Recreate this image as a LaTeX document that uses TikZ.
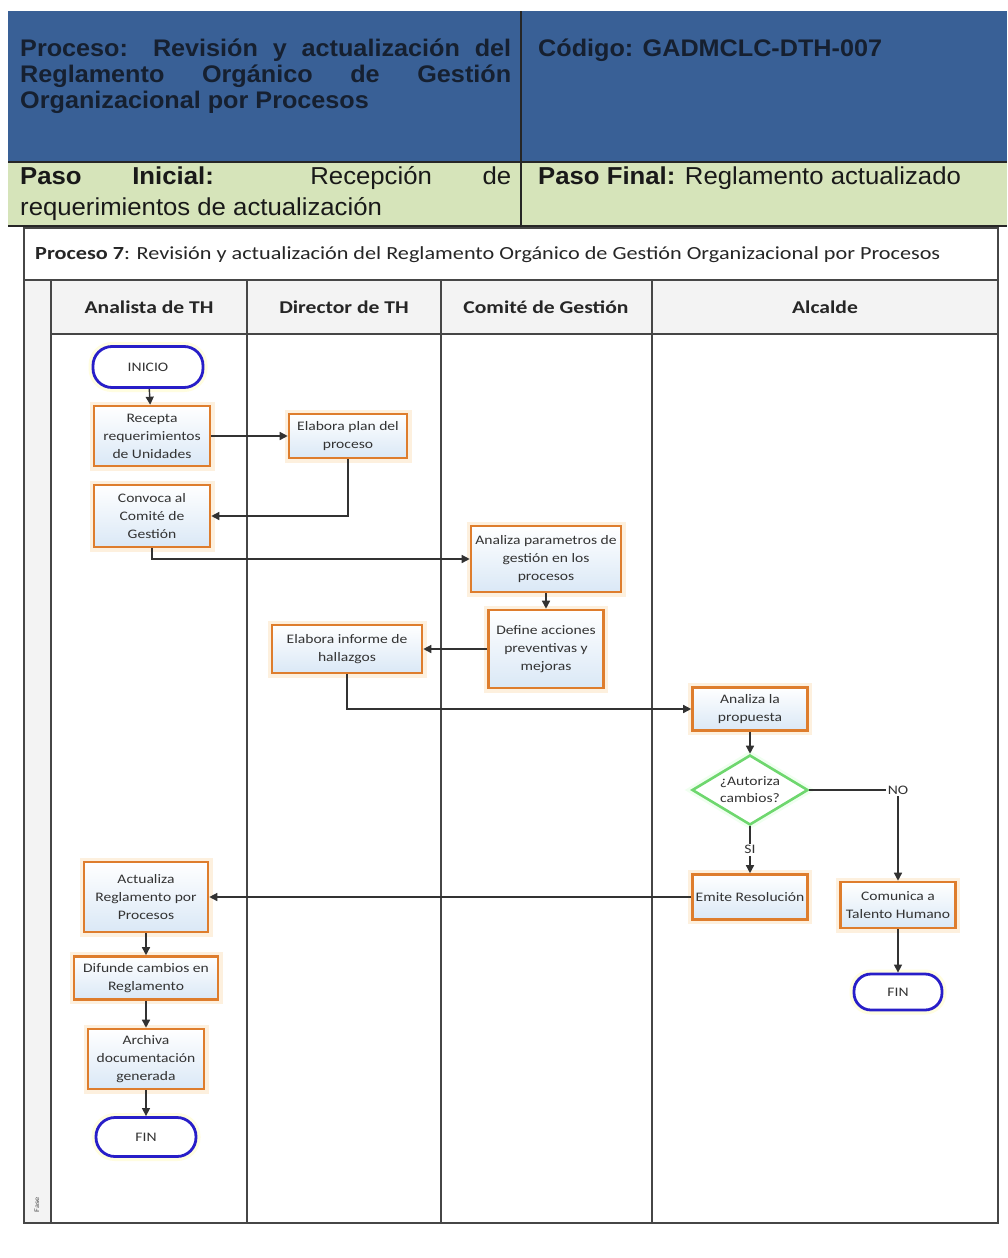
\documentclass[tikz,border=0pt]{standalone}
\usepackage{fontspec}
\setmainfont{Carlito}[FakeStretch=1.2]
\newfontfamily\hdrfont{Liberation Sans}[FakeStretch=1.05]
\usetikzlibrary{shapes.geometric,arrows.meta}

\definecolor{hdrblue}{RGB}{57,96,150}
\definecolor{hdrgreen}{RGB}{214,228,186}
\definecolor{hdrtext}{RGB}{22,32,48}
\definecolor{procorange}{RGB}{222,125,45}
\definecolor{procfill}{RGB}{218,232,246}
\definecolor{termblue}{RGB}{40,30,200}
\definecolor{decgreen}{RGB}{110,215,110}
\definecolor{lanegray}{RGB}{70,70,70}
\definecolor{bandgray}{RGB}{243,243,243}
\definecolor{arrowgray}{RGB}{50,50,50}
\definecolor{halo}{RGB}{253,240,222}

% one justified header line, spread over the full cell width
\newcommand{\fullline}[1]{\makebox[491pt][s]{#1}}

\tikzset{
  proc/.style={rectangle, draw=procorange, line width=2.6pt,
    preaction={draw=halo, line width=9pt},
    top color=white, bottom color=procfill, align=center, inner sep=2pt,
    font=\fontsize{13}{18}\selectfont, text=black!80},
  term/.style={rectangle, rounded corners=19pt, draw=termblue, line width=2.8pt,
    preaction={draw=yellow!12, line width=9pt},
    fill=white, align=center, font=\fontsize{13}{18}\selectfont, text=black!80},
  decision/.style={diamond, draw=decgreen, line width=2.6pt, fill=white,
    preaction={draw=green!6, line width=8pt},
    align=center, inner sep=-9pt, font=\fontsize{13}{17}\selectfont, text=black!80},
  arr/.style={draw=arrowgray, line width=1.4pt, -{Triangle[length=8pt,width=8pt]}},
  lbl/.style={fill=white, inner sep=1.5pt, font=\fontsize{13}{15}\selectfont, text=black!80},
  lanehead/.style={font=\bfseries\fontsize{18}{20}\selectfont, text=black!85},
  lane/.style={draw=lanegray, line width=2pt},
  hdrline/.style={anchor=base west, inner sep=0pt, text=hdrtext,
    font=\hdrfont\bfseries\fontsize{24}{26}\selectfont},
  greenline/.style={anchor=base west, inner sep=0pt, text=black!90,
    font=\hdrfont\fontsize{24.5}{26}\selectfont},
}

\begin{document}
\begin{tikzpicture}[x=1pt,y=-1pt]
\useasboundingbox (0,0) rectangle (1007,1258);
\fill[white] (0,0) rectangle (1007,1258);

% ---------- header table ----------
\fill[hdrblue] (8,11) rectangle (1007,162);
\fill[hdrgreen] (8,162) rectangle (1007,226);
\draw[black!85, line width=2pt] (8,162) -- (1007,162);
\draw[black!85, line width=2pt] (8,226) -- (1007,226);
\draw[black!85, line width=1.5pt] (521,11) -- (521,226);

\node[hdrline] (hp1) at (20,56) {\fullline{Proceso: Revisión y actualización del}};
\node[hdrline] (hp2) at (20,82) {\fullline{Reglamento Orgánico de Gestión}};
\node[hdrline] (hp3) at (20,108) {Organizacional por Procesos};
\node[hdrline] (hcod) at (538,56) {Código: GADMCLC-DTH-007};
\node[greenline] (hi1) at (20,184) {\fullline{\textbf{Paso} \textbf{Inicial:} Recepción de}};
\node[greenline] (hi2) at (20,215) {requerimientos de actualización};
\node[greenline] (hfin) at (538,184) {\textbf{Paso Final:} Reglamento actualizado};

% ---------- swimlane frame ----------
\fill[bandgray] (24,280) rectangle (998,334);
\fill[bandgray] (24,334) rectangle (51,1223);
\draw[lanegray, line width=1.2pt] (24,228) rectangle (998,1223);
\draw[lane] (24,280) -- (998,280);
\draw[lane] (51,334) -- (998,334);
\draw[lane] (51,280) -- (51,1223);
\draw[lane] (247,280) -- (247,1223);
\draw[lane] (441,280) -- (441,1223);
\draw[lane] (652,280) -- (652,1223);
\draw[lane] (24,1223) -- (998,1223);

\node[anchor=west, inner sep=0pt, font=\fontsize{18.5}{20}\selectfont, text=black!85] (title) at (35,255)
  {\textbf{Proceso 7}: Revisión y actualización del Reglamento Orgánico de Gestión Organizacional por Procesos};
\node[lanehead] (l1) at (149,307) {Analista de TH};
\node[lanehead] (l2) at (344,307) {Director de TH};
\node[lanehead] (l3) at (546,307) {Comité de Gestión};
\node[lanehead] (l4) at (825,307) {Alcalde};
\node[rotate=90, font=\fontsize{7}{8}\selectfont, text=black!70] (fase) at (37,1205) {Fase};

% ---------- flow nodes ----------
\node[term, minimum width=110pt, minimum height=41pt] (ini) at (148,367) {INICIO};
\node[proc, minimum width=116pt, minimum height=60pt] (rec) at (152,436) {Recepta\\requerimientos\\de Unidades};
\node[proc, minimum width=118pt, minimum height=44pt] (plan) at (348,436) {Elabora plan del\\proceso};
\node[proc, minimum width=116pt, minimum height=62pt] (conv) at (152,516) {Convoca al\\Comité de\\Gestión};
\node[proc, minimum width=150pt, minimum height=66pt] (par) at (546,559) {Analiza parametros de\\gestión en los\\procesos};
\node[proc, minimum width=115pt, minimum height=78pt] (def) at (546,649) {Define acciones\\preventivas y\\mejoras};
\node[proc, minimum width=150pt, minimum height=48pt] (inf) at (347,649) {Elabora informe de\\hallazgos};
\node[proc, minimum width=115pt, minimum height=43pt] (prop) at (750,709) {Analiza la\\propuesta};
\node[decision, minimum width=116pt, minimum height=70pt] (dec) at (750,790) {¿Autoriza\\cambios?};
\node[proc, minimum width=115pt, minimum height=45pt] (emi) at (750,897) {Emite Resolución};
\node[proc, minimum width=115pt, minimum height=46pt] (com) at (898,905) {Comunica a\\Talento Humano};
\node[term, minimum width=88pt, minimum height=36pt, rounded corners=17pt] (fin2) at (898,992) {FIN};
\node[proc, minimum width=124pt, minimum height=70pt] (act) at (146,897) {Actualiza\\Reglamento por\\Procesos};
\node[proc, minimum width=144pt, minimum height=43pt] (dif) at (146,978) {Difunde cambios en\\Reglamento};
\node[proc, minimum width=116pt, minimum height=60pt] (arc) at (146,1059) {Archiva\\documentación\\generada};
\node[term, minimum width=100pt, minimum height=39pt] (fin1) at (146,1137) {FIN};

% ---------- connectors ----------
\draw[arr] (ini) -- (rec);
\draw[arr] (rec) -- (plan);
\draw[arr] (plan.south) |- (conv.east);
\draw[arr] (conv.south) |- (par.west);
\draw[arr] (par) -- (def);
\draw[arr] (def) -- (inf);
\draw[arr] (inf.south) |- (prop.west);
\draw[arr] (prop) -- (dec);
\draw[arr] (dec) -- node[lbl] {SI} (emi);
\draw[arr] (dec.east) -| node[pos=0.5, lbl] {NO} (com.north);
\draw[arr] (emi) -- (act);
\draw[arr] (act) -- (dif);
\draw[arr] (dif) -- (arc);
\draw[arr] (arc) -- (fin1);
\draw[arr] (com) -- (fin2);
\end{tikzpicture}
\end{document}
